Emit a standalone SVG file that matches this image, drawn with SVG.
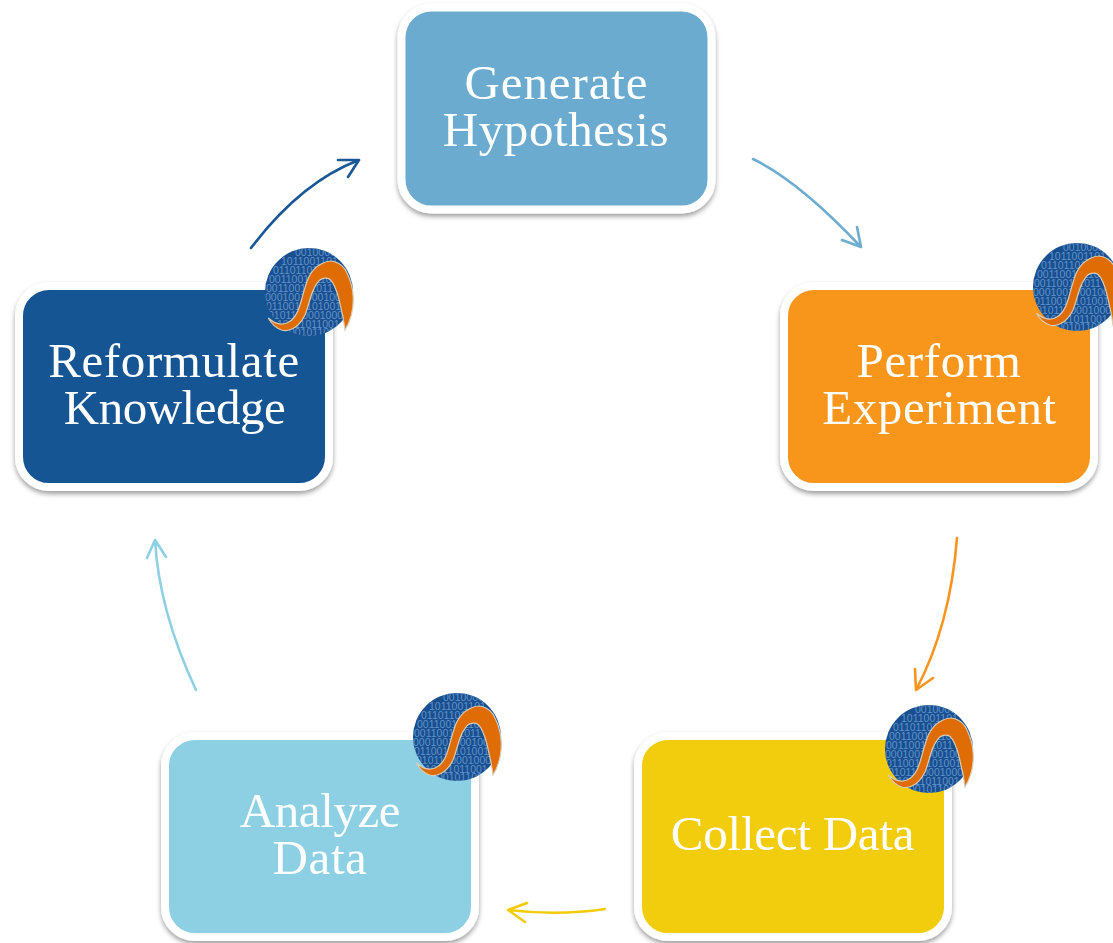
<svg xmlns="http://www.w3.org/2000/svg" width="1113" height="943" viewBox="0 0 1113 943">
<style>
.box{stroke:#fff;stroke-width:8;filter:url(#sh)}
.lbl{font-family:"Liberation Serif","DejaVu Serif",serif;font-size:49px;letter-spacing:.6px;fill:#fff;text-anchor:middle}
.bin{font-family:"Liberation Sans",sans-serif;font-size:10.5px;fill:#5f93cc}
.c{fill:none;stroke-width:2.6;stroke-linecap:round;stroke-linejoin:round}
</style>
<defs>
<filter id="sh" x="-10%" y="-10%" width="120%" height="125%"><feDropShadow dx="0" dy="3" stdDeviation="2.5" flood-color="#000" flood-opacity=".38"/></filter>
<clipPath id="cc"><circle cx="44" cy="44" r="44"/></clipPath>
<g id="badge">
<circle cx="44" cy="44" r="44" fill="#1a4f8f"/>
<g clip-path="url(#cc)" class="bin">
<text x="30" y="8">0010000100</text>
<text x="16" y="17">1011001101</text>
<text x="8" y="26">01101101001</text>
<text x="4" y="35">001100101101</text>
<text x="1" y="44">001100111011</text>
<text x="0" y="53">00010010001001</text>
<text x="1" y="62">01100101010010</text>
<text x="3" y="71">0101100001000</text>
<text x="12" y="80">10011011001</text>
<text x="24" y="88">00101100</text>
</g>
<path d="M3.300 70C10 76 17 77 22 75C30 72 33 64 35 57C38 47 40 38 43.300 30C47 22 52 18 57 15.500C62 13 66 12.500 69 13.500C76 15.500 80 20 82 25C86 33 88 42 88.300 50C88.500 62 85 74 80 82C79 76 78.500 70 76.700 63.700C75 56 74 50 71.700 43.700C69 36 66 31 63 30.300C59 29.500 56 30 53 34C49 39 47.500 43 46 48C44 54 42.500 61 40 67C37 73 33 78 28 80.500C24 82.500 20 83 16.700 82C11 80 6 75 3.300 70Z" fill="#e06c05" stroke="#d8cdb8" stroke-width="1.200"/>
</g>
</defs>
<g id="connectors">
<path class="c" stroke="#1a5796" d="M251 248Q301 182 359 160M338 160L359 160L348 177"/>
<path class="c" stroke="#6cadd0" d="M753 159Q799 181 861 247M842 240L861 247L857 227"/>
<path class="c" stroke="#f7941e" d="M957 538Q950 626 916 690M915 669L916 690L933 678"/>
<path class="c" stroke="#f2cc0a" d="M605 909Q559 916 508 910M527 903L508 910L525 922"/>
<path class="c" stroke="#8ed0e3" d="M196 690Q159 611 155 540M147 558L155 540L166 557"/>
</g>
<g id="node-generate">
<rect class="box" x="401.500" y="7.500" width="310" height="202" rx="30" fill="#6aabcf"/>
<text class="lbl" x="556.500" y="99" style="letter-spacing:.9px">Generate<tspan x="556" dy="47" style="letter-spacing:.6px">Hypothesis</tspan></text>
</g>
<g id="node-perform">
<rect class="box" x="784" y="286" width="310" height="201" rx="30" fill="#f8961e"/>
<text class="lbl" x="939" y="377">Perform<tspan x="939.500" dy="47">Experiment</tspan></text>
<use href="#badge" x="1033" y="243"/>
</g>
<g id="node-collect">
<rect class="box" x="638" y="736" width="310" height="201" rx="30" fill="#f1cd0a"/>
<text class="lbl" x="792.500" y="850" style="letter-spacing:-.25px">Collect Data</text>
<use href="#badge" x="885" y="705"/>
</g>
<g id="node-analyze">
<rect class="box" x="165" y="736" width="310" height="201" rx="30" fill="#8dd0e4"/>
<text class="lbl" x="320" y="827" style="letter-spacing:-.4px">Analyze<tspan x="320" dy="47" style="letter-spacing:.6px">Data</tspan></text>
<use href="#badge" x="413" y="693"/>
</g>
<g id="node-reformulate">
<rect class="box" x="19" y="286" width="310" height="201" rx="30" fill="#175594"/>
<text class="lbl" x="174" y="377">Reformulate<tspan x="174.500" dy="47" style="letter-spacing:-.5px">Knowledge</tspan></text>
<use href="#badge" x="265" y="248"/>
</g>
</svg>
